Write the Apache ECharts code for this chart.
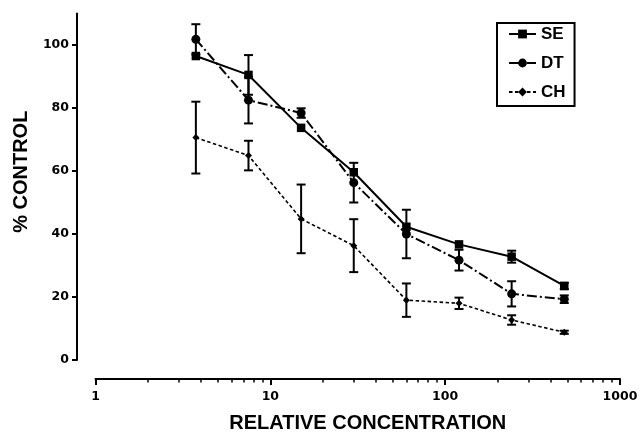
<!DOCTYPE html>
<html>
<head>
<meta charset="utf-8">
<script src="https://cdn.jsdelivr.net/npm/echarts@6/dist/echarts.min.js"></script>
<style>
html,body{margin:0;padding:0;background:#fff;}
#chart{width:641px;height:444px;}
</style>
</head>
<body>
<div id="chart"></div>
<script>
// Relative concentrations (x values)
var concentrations = [3.75, 7.5, 15, 30, 60, 120, 240, 480];
// Series means (% control)
var seValues = [96.5, 90.5, 73.7, 59.6, 42.3, 36.7, 32.8, 23.5];
var dtValues = [101.8, 82.5, 78.4, 56.3, 40.0, 31.7, 21.0, 19.3];
var chValues = [70.6, 64.9, 44.8, 36.3, 19.0, 18.0, 12.7, 8.8];
// Error (± half-length of error bars)
var seErrors = [0, 6.3, 0, 0, 0, 0, 1.9, 1.0];
var dtErrors = [4.8, 7.4, 1.5, 6.3, 7.7, 3.3, 4.0, 1.2];
var chErrors = [11.4, 4.7, 10.9, 8.4, 5.3, 1.8, 1.5, 0.5];
// Tick labels
var xMajorTicks = [1, 10, 100, 1000];
var xMinorTicks = [2,3,4,5,6,7,8,9,20,30,40,50,60,70,80,90,200,300,400,500,600,700,800,900];
var yTicks = [0, 20, 40, 60, 80, 100];
var seriesNames = ['SE', 'DT', 'CH'];

function pairs(xs, ys){ return xs.map(function(x,i){ return [x, ys[i]]; }); }
function errData(xs, ys, es){
  var out = [];
  xs.forEach(function(x,i){ if (es[i] > 0) out.push([x, ys[i]-es[i], ys[i]+es[i]]); });
  return out;
}
function errRender(params, api){
  var x = api.value(0), lo = api.value(1), hi = api.value(2);
  var t = api.coord([x, hi]), b = api.coord([x, lo]);
  var w = 4.5;
  var st = {stroke:'#000', lineWidth:2};
  return {type:'group', children:[
    {type:'line', shape:{x1:t[0], y1:t[1], x2:b[0], y2:b[1]}, style:st},
    {type:'line', shape:{x1:t[0]-w, y1:t[1], x2:t[0]+w, y2:t[1]}, style:st},
    {type:'line', shape:{x1:b[0]-w, y1:b[1], x2:b[0]+w, y2:b[1]}, style:st}
  ]};
}
function errSeries(data){
  return {type:'custom', renderItem:errRender, data:data, z:1,
    encode:{x:0, y:[1,2]}, silent:true};
}

var tickFont = {fontFamily:'DejaVu Sans', fontWeight:'bold', fontSize:12.5, color:'#000'};
var chart = echarts.init(document.getElementById('chart'), null, {renderer:'canvas'});
var option = {
  animation:false,
  backgroundColor:'#fff',
  grid:{left:95.5, top:13.5, width:524.5, height:346.5, containLabel:false},
  legend:{
    data:seriesNames, orient:'vertical', left:497, top:23,
    borderColor:'#000', borderWidth:2, padding:[1, 9, 4, 11],
    itemGap:9, itemWidth:27, itemHeight:11,
    textStyle:{fontFamily:'Liberation Sans', fontWeight:'bold', fontSize:17, lineHeight:20, color:'#000'}
  },
  xAxis:[{
    type:'log', logBase:10, min:1, max:1000, position:'bottom', offset:19,
    name:'RELATIVE CONCENTRATION', nameLocation:'middle', nameGap:34,
    nameTextStyle:{fontFamily:'Liberation Sans', fontWeight:'bold', fontSize:20, color:'#000', padding:[0,0,0,20]},
    axisLine:{show:true, onZero:false, lineStyle:{color:'#000', width:2}},
    axisTick:{show:true, inside:false, length:6, lineStyle:{color:'#000', width:2}, customValues:xMajorTicks},
    axisLabel:Object.assign({margin:11, customValues:xMajorTicks, formatter:function(v){ return String(v); }}, tickFont),
    splitLine:{show:false}, minorTick:{show:false}
  },{
    type:'log', logBase:10, min:1, max:1000, position:'bottom', offset:19,
    axisLine:{show:false, onZero:false},
    axisTick:{show:true, inside:false, length:3.5, lineStyle:{color:'#000', width:1.5}, customValues:xMinorTicks},
    axisLabel:{show:false},
    splitLine:{show:false}
  }],
  yAxis:{
    type:'value', min:0, max:110, position:'left', offset:18.5,
    name:'% CONTROL', nameLocation:'middle', nameGap:46, nameRotate:90,
    nameTextStyle:{fontFamily:'Liberation Sans', fontWeight:'bold', fontSize:20, color:'#000', padding:[0,0,0,30]},
    axisLine:{show:true, onZero:false, lineStyle:{color:'#000', width:2}},
    axisTick:{show:true, inside:false, length:5, lineStyle:{color:'#000', width:2}, customValues:yTicks},
    axisLabel:Object.assign({margin:8, customValues:yTicks}, tickFont),
    splitLine:{show:false}
  },
  series:[
    {name:'SE', type:'line', data:pairs(concentrations, seValues), z:3,
     symbol:'rect', symbolSize:8.5, itemStyle:{color:'#000'},
     lineStyle:{color:'#000', width:2, type:'solid'}},
    {name:'DT', type:'line', data:pairs(concentrations, dtValues), z:3,
     symbol:'circle', symbolSize:9, itemStyle:{color:'#000'},
     lineStyle:{color:'#000', width:2, type:[10,3,2,3]}},
    {name:'CH', type:'line', data:pairs(concentrations, chValues), z:3,
     symbol:'diamond', symbolSize:7, itemStyle:{color:'#000'},
     lineStyle:{color:'#000', width:1.6, type:[3.5,2.5]}},
    errSeries(errData(concentrations, seValues, seErrors)),
    errSeries(errData(concentrations, dtValues, dtErrors)),
    errSeries(errData(concentrations, chValues, chErrors))
  ]
};
chart.setOption(option);
</script>
</body>
</html>
